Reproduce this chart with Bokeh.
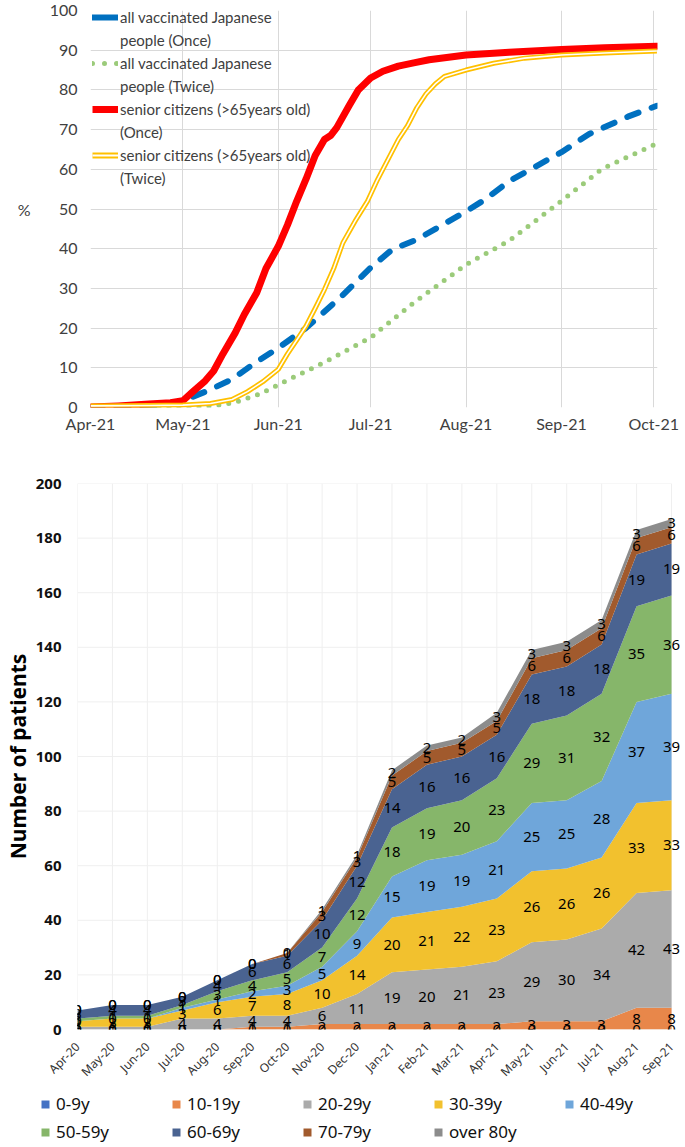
import math
import pandas as pd
from bokeh.plotting import figure
from bokeh.models import (Range1d, FixedTicker, Legend, LegendItem,
                          ColumnDataSource, LabelSet)
from bokeh.core.properties import value
from bokeh.embed import file_html
from bokeh.resources import INLINE

# ---------------- Top chart data (vaccination %) ----------------
START = "2021-04-01"
month_tick_dates = ["2021-04-01", "2021-05-01", "2021-06-01", "2021-07-01",
                    "2021-08-01", "2021-09-01", "2021-10-01"]
month_tick_labels = ["Apr-21", "May-21", "Jun-21", "Jul-21", "Aug-21", "Sep-21", "Oct-21"]

all_once_dates = ["2021-04-01", "2021-04-15", "2021-04-25", "2021-05-01", "2021-05-09",
                  "2021-05-17", "2021-05-24", "2021-06-01", "2021-06-10", "2021-06-21",
                  "2021-07-01", "2021-07-08", "2021-07-16", "2021-08-01", "2021-08-07",
                  "2021-08-15", "2021-09-01", "2021-09-10", "2021-09-23", "2021-10-02"]
all_once_pct = [0, 0.1, 0.6, 1.7, 4.2, 7.1, 11, 15, 20, 27.6,
                35.2, 39.8, 42.3, 49.4, 52.3, 57, 64.3, 68.9, 73.4, 76]

all_twice_dates = ["2021-04-20", "2021-05-01", "2021-05-10", "2021-05-18", "2021-05-26",
                   "2021-06-03", "2021-06-15", "2021-07-01", "2021-07-15", "2021-08-01",
                   "2021-08-15", "2021-09-01", "2021-09-14", "2021-09-25", "2021-10-02"]
all_twice_pct = [0, 0.1, 0.3, 1.3, 3.4, 6.5, 11, 17.6, 26.4, 36, 42, 52, 60, 64, 66.5]

senior_once_dates = ["2021-04-01", "2021-04-10", "2021-04-20", "2021-04-27", "2021-05-01",
                     "2021-05-04", "2021-05-08", "2021-05-11", "2021-05-14", "2021-05-18",
                     "2021-05-21", "2021-05-25", "2021-05-28", "2021-06-01", "2021-06-04",
                     "2021-06-07", "2021-06-10", "2021-06-13", "2021-06-16", "2021-06-18",
                     "2021-06-20", "2021-06-24", "2021-06-27", "2021-07-01", "2021-07-05",
                     "2021-07-10", "2021-07-15", "2021-07-20", "2021-08-01", "2021-08-15",
                     "2021-09-01", "2021-09-15", "2021-10-02"]
senior_once_pct = [0.1, 0.4, 0.9, 1.2, 1.7, 3.8, 6.5, 9.2, 13.5, 18.8,
                   23.5, 28.9, 35, 40.6, 46, 52, 57.5, 63.5, 67.5, 68.5,
                   70.5, 76, 80, 83, 84.7, 86, 86.8, 87.6, 88.8, 89.5,
                   90.2, 90.6, 91]

senior_twice_dates = ["2021-04-01", "2021-04-20", "2021-05-01", "2021-05-10", "2021-05-17",
                      "2021-05-22", "2021-05-27", "2021-06-01", "2021-06-04", "2021-06-07",
                      "2021-06-10", "2021-06-13", "2021-06-16", "2021-06-19", "2021-06-22",
                      "2021-06-26", "2021-06-30", "2021-07-03", "2021-07-07", "2021-07-10",
                      "2021-07-13", "2021-07-16", "2021-07-19", "2021-07-22", "2021-07-25",
                      "2021-08-01", "2021-08-10", "2021-08-20", "2021-09-01", "2021-09-15",
                      "2021-10-02"]
senior_twice_pct = [0.4, 0.5, 0.6, 1.0, 2, 4, 6.5, 9.6, 13.5, 17,
                    20.5, 25, 29.7, 35, 41.5, 47, 52, 57, 63, 67.5,
                    71, 75.5, 79, 81.5, 83.4, 85, 86.7, 88, 88.8, 89.3,
                    89.8]

# ---------------- Bottom chart data (patients) ----------------
months = ["Apr-20", "May-20", "Jun-20", "Jul-20", "Aug-20", "Sep-20", "Oct-20", "Nov-20",
          "Dec-20", "Jan-21", "Feb-21", "Mar-21", "Apr-21", "May-21", "Jun-21", "Jul-21",
          "Aug-21", "Sep-21"]
age_groups = ["0-9y", "10-19y", "20-29y", "30-39y", "40-49y", "50-59y", "60-69y",
              "70-79y", "over 80y"]
age_0_9 = [0, 0, 0, 0, 0, 0, 0, 0, 0, 0, 0, 0, 0, 0, 0, 0, 0, 0]
age_10_19 = [0, 0, 0, 0, 0, 1, 1, 2, 2, 2, 2, 2, 2, 3, 3, 3, 8, 8]
age_20_29 = [1, 1, 1, 4, 4, 4, 4, 6, 11, 19, 20, 21, 23, 29, 30, 34, 42, 43]
age_30_39 = [2, 3, 3, 3, 6, 7, 8, 10, 14, 20, 21, 22, 23, 26, 26, 26, 33, 33]
age_40_49 = [0, 0, 0, 1, 1, 2, 3, 5, 9, 15, 19, 19, 21, 25, 25, 28, 37, 39]
age_50_59 = [1, 1, 1, 1, 3, 4, 5, 7, 12, 18, 19, 20, 23, 29, 31, 32, 35, 36]
age_60_69 = [3, 4, 4, 3, 4, 6, 6, 10, 12, 14, 16, 16, 16, 18, 18, 18, 19, 19]
age_70_79 = [0, 0, 0, 0, 0, 0, 1, 3, 3, 5, 5, 5, 5, 6, 6, 6, 6, 6]
age_80_plus = [0, 0, 0, 0, 0, 0, 0, 1, 1, 2, 2, 2, 3, 3, 3, 3, 3, 3]
age_colors = ["#4472C4", "#E8874A", "#ABABAB", "#F2C12E", "#6FA6DA", "#86B66A",
              "#4A6391", "#A15A2D", "#8C8C8C"]
patient_ticks = list(range(0, 201, 20))


def to_days(dates):
    return [int(d) for d in (pd.to_datetime(dates) - pd.Timestamp(START)).days]


NAN = [float("nan")]
W = 685

# ================= TOP FIGURE =================
FONT = "Lato"
P1_H, P1_TOP, P1_BOT = 458, 10, 51
p1 = figure(width=W, height=P1_H, x_range=Range1d(0, 184.2), y_range=Range1d(0, 100),
            output_backend="svg", toolbar_location=None,
            min_border_left=90, min_border_right=28, min_border_top=P1_TOP,
            min_border_bottom=P1_BOT)
p1.outline_line_color = None

tick_days = to_days(month_tick_dates)
p1.xaxis.ticker = FixedTicker(ticks=tick_days)
p1.xaxis.major_label_overrides = {d: l for d, l in zip(tick_days, month_tick_labels)}
p1.yaxis.ticker = FixedTicker(ticks=list(range(0, 101, 10)))
p1.xgrid.ticker = FixedTicker(ticks=tick_days)
for g in (p1.xgrid, p1.ygrid):
    g.grid_line_color = "#D9D9D9"
    g.grid_line_width = 1
for ax in (p1.xaxis, p1.yaxis):
    ax.axis_line_color = None
    ax.major_tick_line_color = None
    ax.minor_tick_line_color = None
    ax.major_label_text_font = FONT
    ax.major_label_text_font_size = "16px"
    ax.major_label_text_color = "#404040"
p1.xaxis.major_label_standoff = 0
p1.yaxis.major_label_standoff = 7
p1.yaxis.axis_label = "%"
p1.yaxis.axis_label_orientation = "horizontal"
p1.yaxis.axis_label_text_font = FONT
p1.yaxis.axis_label_text_font_style = "normal"
p1.yaxis.axis_label_text_font_size = "16px"
p1.yaxis.axis_label_text_color = "#404040"
p1.yaxis.axis_label_standoff = 16

r_blue = p1.line(to_days(all_once_dates), all_once_pct, line_color="#0070C0", line_width=6,
                 line_dash="12 14", line_cap="round", line_join="round")
r_green = p1.line(to_days(all_twice_dates), all_twice_pct, line_color="#9BCB7A", line_width=5,
                  line_dash="0 10", line_cap="round", line_join="round")
r_red = p1.line(to_days(senior_once_dates), senior_once_pct, line_color="#FF0000", line_width=7,
                line_join="round", line_cap="round")
r_yel = p1.line(to_days(senior_twice_dates), senior_twice_pct, line_color="#FFC000",
                line_width=5, line_join="round")
r_yel_in = p1.line(to_days(senior_twice_dates), senior_twice_pct, line_color="white",
                   line_width=1.6, line_join="round")

# legend-only glyph renderers (single NaN point: nothing drawn in the plot)
lg_blue = p1.line([0], NAN, line_color="#0070C0", line_width=6, line_cap="round")
lg_green = p1.line([0], NAN, line_color="#9BCB7A", line_width=5, line_dash="0 12",
                   line_cap="round")
lg_red = p1.line([0], NAN, line_color="#FF0000", line_width=7)
lg_yel = p1.line([0], NAN, line_color="#FFC000", line_width=6)
lg_yel_in = p1.line([0], NAN, line_color="white", line_width=2)
lg_none = p1.line([0], NAN, line_alpha=0)

FRAME_H = P1_H - P1_TOP - P1_BOT
LEG_PAD, LEG_SP, LEG_H, LEG_N = 5, 5, 18, 8
leg_height = 2 * LEG_PAD + LEG_N * LEG_H + (LEG_N - 1) * LEG_SP
leg1 = Legend(items=[
    LegendItem(label="all vaccinated Japanese", renderers=[lg_blue]),
    LegendItem(label="people (Once)", renderers=[lg_none]),
    LegendItem(label="all vaccinated Japanese", renderers=[lg_green]),
    LegendItem(label="people (Twice)", renderers=[lg_none]),
    LegendItem(label="senior citizens (>65years old)", renderers=[lg_red]),
    LegendItem(label="(Once)", renderers=[lg_none]),
    LegendItem(label="senior citizens (>65years old)", renderers=[lg_yel, lg_yel_in]),
    LegendItem(label="(Twice)", renderers=[lg_none]),
], location=(2, FRAME_H - leg_height + 12))
leg1.background_fill_alpha = 0
leg1.border_line_color = None
leg1.margin = 0
leg1.padding = LEG_PAD
leg1.spacing = LEG_SP
leg1.glyph_width = 26
leg1.glyph_height = LEG_H
leg1.label_height = LEG_H
leg1.label_standoff = 2
leg1.label_text_font = FONT
leg1.label_text_font_size = "15px"
leg1.label_text_color = "#404040"
p1.add_layout(leg1)

# ================= BOTTOM FIGURE =================
LFONT = "Noto Sans"
idx = list(range(len(months)))
series = [age_0_9, age_10_19, age_20_29, age_30_39, age_40_49, age_50_59,
          age_60_69, age_70_79, age_80_plus]
keys = ["a%d" % i for i in range(len(series))]
src = ColumnDataSource(dict(x=idx, **{k: s for k, s in zip(keys, series)}))

X_END = 17.4
p2 = figure(width=W, height=631, x_range=Range1d(0, X_END), y_range=Range1d(0, 200),
            output_backend="svg", toolbar_location=None,
            min_border_left=71, min_border_right=0, min_border_top=25, min_border_bottom=60)
p2.outline_line_color = None
p2.xgrid.visible = False
p2.ygrid.visible = False
# grid lines limited to the data span (0 .. last month)
p2.segment(x0=[0] * len(patient_ticks), x1=[idx[-1]] * len(patient_ticks),
           y0=patient_ticks, y1=patient_ticks, line_color="#EFEFEF", line_width=1,
           level="underlay")
p2.segment(x0=idx, x1=idx, y0=[0] * len(idx), y1=[200] * len(idx),
           line_color="#EFEFEF", line_width=1, level="underlay")

p2.xaxis.ticker = FixedTicker(ticks=idx)
p2.xaxis.major_label_overrides = {i: m for i, m in zip(idx, months)}
p2.yaxis.ticker = FixedTicker(ticks=patient_ticks)
for ax in (p2.xaxis, p2.yaxis):
    ax.axis_line_color = None
    ax.major_tick_line_color = None
    ax.minor_tick_line_color = None
    ax.major_label_text_font = LFONT
    ax.major_label_text_color = "#111111"
p2.xaxis.major_label_orientation = math.pi / 4
p2.xaxis.major_label_text_font_size = "12px"
p2.xaxis.major_label_text_color = "#333333"
p2.xaxis.major_label_standoff = 9
p2.yaxis.major_label_text_font_size = "15px"
p2.yaxis.major_label_text_font_style = "bold"
p2.yaxis.major_label_standoff = 10
p2.yaxis.axis_label = "Number of patients"
p2.yaxis.axis_label_text_font = LFONT
p2.yaxis.axis_label_text_font_style = "bold"
p2.yaxis.axis_label_text_font_size = "21px"
p2.yaxis.axis_label_text_color = "black"
p2.yaxis.axis_label_standoff = 1

areas = p2.varea_stack(stackers=keys, x="x", color=age_colors, source=src)

# data labels at the middle of each band
lx, ly, lt = [], [], []
cum = [0] * len(months)
for s in series:
    for i, v in enumerate(s):
        lx.append(i)
        ly.append(cum[i] + v / 2)
        lt.append(str(v))
        cum[i] += v
lab_src = ColumnDataSource(dict(x=lx, y=ly, t=lt))
labels = LabelSet(x="x", y="y", text="t", source=lab_src, text_align="center",
                  text_baseline="middle", text_font=value(LFONT), text_font_size="15px",
                  text_color="black")
p2.add_layout(labels)

# ================= LEGEND STRIP =================
p3 = figure(width=W, height=58, x_range=Range1d(0, 1), y_range=Range1d(0, 1),
            output_backend="svg", toolbar_location=None,
            x_axis_location=None, y_axis_location=None, min_border=0)
p3.outline_line_color = None
p3.xgrid.visible = False
p3.ygrid.visible = False
swatches = [p3.varea(x=[0], y1=NAN, y2=NAN, fill_color=c) for c in age_colors]
leg2 = Legend(items=[LegendItem(label=g, renderers=[r]) for g, r in zip(age_groups, swatches)],
              orientation="horizontal", ncols=5, location=(40, 4))
leg2.border_line_color = None
leg2.background_fill_alpha = 0
leg2.glyph_width = 10
leg2.glyph_height = 10
leg2.label_standoff = 6
leg2.label_width = 110
leg2.label_height = 20
leg2.spacing = 5
leg2.padding = 0
leg2.margin = 0
leg2.label_text_font = LFONT
leg2.label_text_font_size = "17px"
leg2.label_text_color = "#111111"
p3.add_layout(leg2)

# three independent roots, stacked on the page (no frame alignment between them)
open("out.html", "w").write(file_html([p1, p2, p3], INLINE))
